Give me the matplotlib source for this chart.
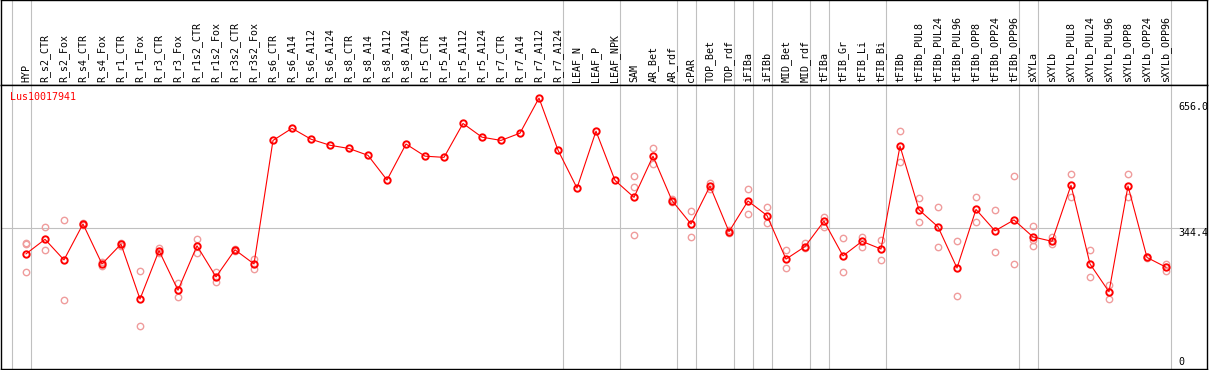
import matplotlib
matplotlib.use("Agg")
import matplotlib.pyplot as plt

# Sample names (one column each)
samples = ["HYP", "R_s2_CTR", "R_s2_Fox", "R_s4_CTR", "R_s4_Fox", "R_r1_CTR",
           "R_r1_Fox", "R_r3_CTR", "R_r3_Fox", "R_r1s2_CTR", "R_r1s2_Fox",
           "R_r3s2_CTR", "R_r3s2_Fox", "R_s6_CTR", "R_s6_A14", "R_s6_A112",
           "R_s6_A124", "R_s8_CTR", "R_s8_A14", "R_s8_A112", "R_s8_A124",
           "R_r5_CTR", "R_r5_A14", "R_r5_A112", "R_r5_A124", "R_r7_CTR",
           "R_r7_A14", "R_r7_A112", "R_r7_A124", "LEAF_N", "LEAF_P", "LEAF_NPK",
           "SAM", "AR_Bet", "AR_rdf", "cPAR", "TOP_Bet", "TOP_rdf", "iFIBa",
           "iFIBb", "MID_Bet", "MID_rdf", "tFIBa", "tFIB_Gr", "tFIB_Li",
           "tFIB_Bi", "tFIBb", "tFIBb_PUL8", "tFIBb_PUL24", "tFIBb_PUL96",
           "tFIBb_OPP8", "tFIBb_OPP24", "tFIBb_OPP96", "sXYLa", "sXYLb",
           "sXYLb_PUL8", "sXYLb_PUL24", "sXYLb_PUL96", "sXYLb_OPP8",
           "sXYLb_OPP24", "sXYLb_OPP96"]

# mean expression per sample
means = [281, 317, 266, 355, 256, 305, 169, 289, 191, 301, 224, 291, 256,
         562, 592, 565, 550, 542, 525, 464, 553, 523, 520, 604, 570, 562,
         580, 667, 538, 444, 585, 463, 421, 523, 413, 355, 449, 336, 412,
         376, 268, 299, 362, 276, 312, 293, 548, 390, 348, 246, 391, 338,
         365, 323, 312, 451, 256, 187, 449, 272, 248]

# individual replicates per sample
replicates = [[308, 305, 236], [348, 291], [364, 167], [357, 352], [261, 251],
              [308, 300], [239, 102], [295, 282], [208, 173], [317, 284],
              [236, 212], [293, 288], [268, 243],
              [], [], [], [], [], [], [], [], [], [], [], [], [], [], [], [],
              [], [], [],
              [473, 447, 328], [542, 504], [416, 409], [387, 322], [457, 441],
              [339, 333], [442, 379], [397, 357], [291, 245], [307, 295],
              [372, 348], [320, 237], [322, 297], [315, 266], [585, 509],
              [419, 359], [397, 297], [312, 176], [422, 359], [390, 285],
              [473, 255], [350, 315, 301], [322, 305], [478, 421], [291, 223],
              [205, 168], [478, 421], [274, 270], [256, 239]]

# first sample index of each group (last one closes the chart)
group_starts = [0, 1, 29, 32, 35, 36, 38, 39, 40, 42, 43, 46, 53, 54, 61]

gene = "Lus10017941"
y_ticks = [656.0, 344.4, 0]
mean_line = 344.4

W, H = 1209, 370
fig = plt.figure(figsize=(W / 100, H / 100), dpi=100)
head = fig.add_axes([1 / W, (H - 85) / H, 1206 / W, 85 / H])
ax = fig.add_axes([1 / W, 1 / H, 1206 / W, 84 / H * 0 + (369 - 85) / H])

xlim = ((1 - 26) / 19, (1207 - 26) / 19)
for a in (head, ax):
    a.set_xlim(*xlim)
    a.set_xticks([])
    a.set_yticks([])
    for s in a.spines.values():
        s.set_linewidth(1.0)
        s.set_color("black")
    for b in group_starts:
        a.axvline(b - 14.5 / 19, color="#c0c0c0", lw=0.8, zorder=0)

head.set_ylim(0, 1)
ax.set_ylim((367.3 - 369) * 2.477, (367.3 - 85) * 2.477)

mono = "DejaVu Sans Mono"
for i, name in enumerate(samples):
    head.text(i, 0.03, name, rotation=90, ha="center", va="bottom",
              fontsize=7.2, family=mono)

ax.axhline(mean_line, color="#c0c0c0", lw=0.8, zorder=0)

# replicates
for i, reps in enumerate(replicates):
    if reps:
        ax.plot([i] * len(reps), reps, ls="none", marker="o", ms=4.6,
                mfc="none", mec="#ef9c9c", mew=1.0, zorder=2)

ax.plot(range(len(means)), means, color="red", lw=0.8, zorder=3)
ax.plot(range(len(means)), means, ls="none", marker="o", ms=4.6,
        mfc="none", mec="red", mew=1.4, zorder=4)

tx = (1178.3 - 1) / 1206
for v in y_ticks:
    ax.text(tx, v, "%g" % v if v == 0 else "%.1f" % v,
            transform=ax.get_yaxis_transform(), ha="left",
            va="bottom" if v == 0 else "top", fontsize=7.2, family=mono)

ax.text(9 / 1206, (367.3 - 97) * 2.477, gene, color="red", ha="left",
        va="center", fontsize=7.2, family=mono,
        transform=ax.get_yaxis_transform())

fig.savefig("out.png", dpi=100)
